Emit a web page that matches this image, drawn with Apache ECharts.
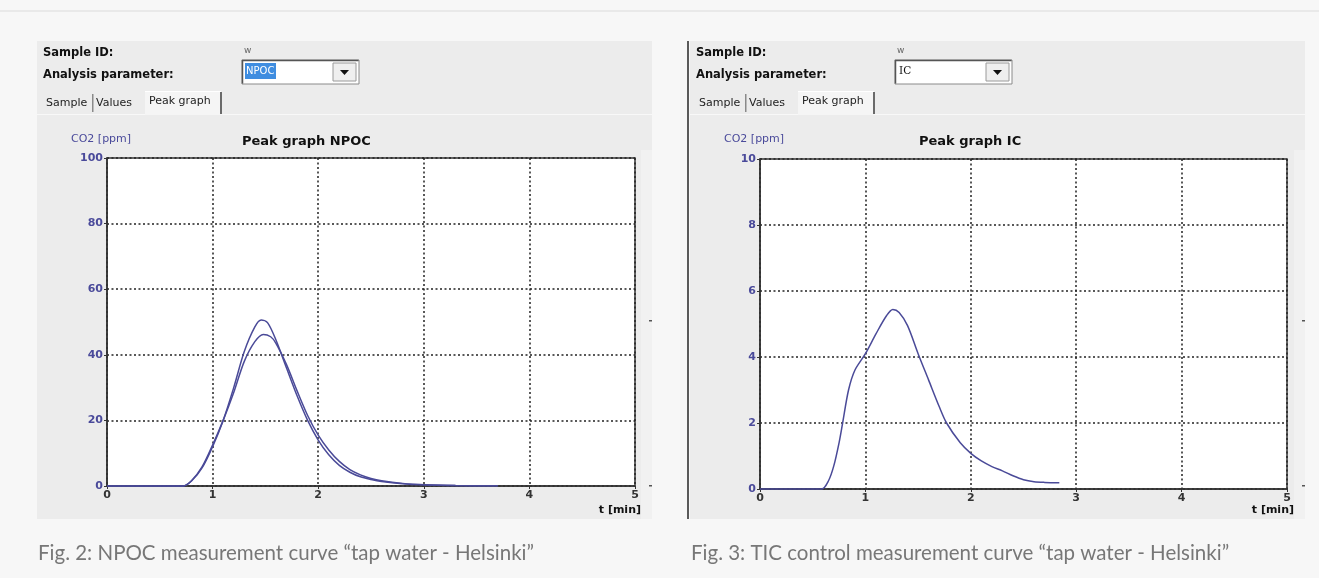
<!DOCTYPE html>
<html><head><meta charset="utf-8">
<script src="https://cdn.jsdelivr.net/npm/echarts@6/dist/echarts.min.js"></script>
<style>html,body{margin:0;padding:0;background:#f7f7f7}#c{width:1319px;height:578px}</style>
</head><body><div id="c"></div>
<script>
// ---- data ----
const xTicks = [0, 1, 2, 3, 4, 5];
const npocYTicks = [0, 20, 40, 60, 80, 100];
const icYTicks = [0, 2, 4, 6, 8, 10];

const npocTimeA = [0, 0.72, 0.8, 0.9, 1.0, 1.1, 1.2, 1.3, 1.4, 1.46, 1.52, 1.6, 1.7, 1.8, 1.9, 2.0, 2.1, 2.2, 2.3, 2.4, 2.5, 2.6, 2.8, 3.0, 3.3, 3.7];
const npocValA  = [0, 0, 1.5, 5.5, 12, 20, 30, 41, 48.5, 50.6, 49.8, 44.5, 36, 27.5, 20, 14, 9.5, 6.3, 4.2, 2.8, 2.0, 1.4, 0.7, 0.35, 0.15, 0.05];
const npocTimeB = [0, 0.72, 0.8, 0.9, 1.0, 1.1, 1.2, 1.3, 1.4, 1.48, 1.55, 1.6, 1.7, 1.8, 1.9, 2.0, 2.1, 2.2, 2.3, 2.4, 2.5, 2.6, 2.8, 3.0, 3.3, 3.7];
const npocValB  = [0, 0, 1.6, 5.8, 12.5, 20, 28.5, 38, 44, 46.2, 45.5, 43.5, 37, 29, 21.5, 15.5, 11, 7.5, 5, 3.4, 2.3, 1.6, 0.8, 0.4, 0.15, 0.05];
const icTime = [0, 0.585, 0.65, 0.7, 0.75, 0.784, 0.84, 0.9, 1.0, 1.1, 1.2, 1.26, 1.32, 1.4, 1.5, 1.6, 1.7, 1.77, 1.9, 2.0, 2.1, 2.2, 2.3, 2.4, 2.5, 2.6, 2.7, 2.84];
const icVal  = [0, 0, 0.25, 0.7, 1.4, 2.0, 3.0, 3.6, 4.1, 4.7, 5.25, 5.44, 5.35, 4.95, 4.1, 3.3, 2.5, 2.0, 1.4, 1.08, 0.85, 0.68, 0.55, 0.4, 0.28, 0.22, 0.2, 0.19];

const captions = ['Fig. 2: NPOC measurement curve \u201ctap water - Helsinki\u201d', 'Fig. 3: TIC control measurement curve \u201ctap water - Helsinki\u201d'];
const params = ['NPOC', 'IC'];
const titles = ['Peak graph NPOC', 'Peak graph IC'];

// ---- build ----
const zip = (t, v) => t.map((x, i) => [x, v[i]]);
const UI = '"DejaVu Sans", Verdana, sans-serif';
const lineCol = '#4a4a98';

function panelGraphics(dx, idx) {
  const g = [];
  g.push({type:'rect', shape:{x:37+dx, y:41, width:615, height:478}, style:{fill:'#ececec'}, z:-10});
  if (idx === 1) g.push({type:'rect', shape:{x:687, y:41, width:2, height:478}, style:{fill:'#5a5a5a'}, z:-9});
  g.push({type:'rect', shape:{x:641+dx, y:150, width:11, height:369}, style:{fill:'#f1f1f1'}, z:-9});
  g.push({type:'rect', shape:{x:649+dx, y:320, width:3, height:1.5}, style:{fill:'#555'}});
  g.push({type:'rect', shape:{x:649+dx, y:485, width:3, height:1.5}, style:{fill:'#555'}});
  g.push({type:'text', x:43+dx, y:53, style:{text:'Sample ID:', font:'bold 11.5px ' + UI, fill:'#111', verticalAlign:'middle'}});
  g.push({type:'text', x:43+dx, y:75, style:{text:'Analysis parameter:', font:'bold 11.5px ' + UI, fill:'#111', verticalAlign:'middle'}});
  g.push({type:'text', x:244+dx, y:51, style:{text:'w', font:'9px ' + UI, fill:'#666', verticalAlign:'middle'}});
  g.push({type:'rect', shape:{x:242+dx, y:60, width:117, height:24}, style:{fill:'#fff', stroke:'#8a8a8a', lineWidth:1}});
  g.push({type:'polyline', shape:{points:[[242.5+dx,83.5],[242.5+dx,60.5],[358.5+dx,60.5]]}, style:{stroke:'#555', lineWidth:1.5, fill:null}});
  g.push({type:'rect', shape:{x:333+dx, y:63, width:23, height:18}, style:{fill:'#efefef', stroke:'#9a9a9a', lineWidth:1}});
  g.push({type:'polygon', shape:{points:[[340+dx,70],[349+dx,70],[344.5+dx,75]]}, style:{fill:'#111'}});
  if (idx === 0) {
    g.push({type:'rect', shape:{x:245+dx, y:63, width:31, height:16}, style:{fill:'#3f8de0'}});
    g.push({type:'text', x:246+dx, y:71, style:{text:params[idx], font:'10px ' + UI, fill:'#fff', verticalAlign:'middle'}});
  } else {
    g.push({type:'text', x:246+dx, y:71, style:{text:params[idx], font:'10.5px "DejaVu Serif", serif', fill:'#111', verticalAlign:'middle'}});
  }
  g.push({type:'rect', shape:{x:37+dx, y:114, width:615, height:1}, style:{fill:'#f8f8f8'}});
  g.push({type:'rect', shape:{x:145+dx, y:91, width:76, height:24}, style:{fill:'#f5f5f5'}});
  g.push({type:'rect', shape:{x:145+dx, y:91, width:76, height:1}, style:{fill:'#fff'}});
  g.push({type:'rect', shape:{x:220+dx, y:92, width:2, height:22}, style:{fill:'#6a6a6a'}});
  g.push({type:'rect', shape:{x:92+dx, y:94, width:1.5, height:18}, style:{fill:'#8a8a8a'}});
  g.push({type:'text', x:46+dx, y:103, style:{text:'Sample', font:'11px ' + UI, fill:'#222', verticalAlign:'middle'}});
  g.push({type:'text', x:96+dx, y:103, style:{text:'Values', font:'11px ' + UI, fill:'#222', verticalAlign:'middle'}});
  g.push({type:'text', x:149+dx, y:101, style:{text:'Peak graph', font:'11px ' + UI, fill:'#222', verticalAlign:'middle'}});
  g.push({type:'text', x:71+dx, y:139, style:{text:'CO2 [ppm]', font:'11px ' + UI, fill:'#4b4b9b', verticalAlign:'middle'}});
  g.push({type:'text', x:242+dx + (idx ? 24 : 0), y:142, style:{text:titles[idx], font:'bold 13px ' + UI, fill:'#111', verticalAlign:'middle'}});
  g.push({type:'text', x:641+dx, y:510, style:{text:'t [min]', font:'bold 11px ' + UI, fill:'#111', align:'right', verticalAlign:'middle'}});
  g.push({type:'text', x:38+dx, y:553, style:{text:captions[idx], font:'20.5px Lato, sans-serif', fill:'#777', verticalAlign:'middle'}});
  return g;
}

function xAx(gi) {
  return {gridIndex:gi, type:'value', min:xTicks[0], max:xTicks[xTicks.length-1], interval:1,
    axisLine:{show:true, onZero:false, lineStyle:{color:'#333', width:1.5}},
    axisTick:{show:true, length:3, lineStyle:{color:'#333'}},
    axisLabel:{color:'#333', fontWeight:'bold', fontSize:11, fontFamily:'DejaVu Sans', margin:4},
    splitLine:{show:true, lineStyle:{color:'#222', type:[2,2.5], width:1.5}}};
}
function yAx(gi, ticks) {
  return {gridIndex:gi, type:'value', min:ticks[0], max:ticks[ticks.length-1], interval:ticks[1]-ticks[0],
    axisLine:{show:true, lineStyle:{color:'#333', width:1.5}},
    axisTick:{show:true, length:3, lineStyle:{color:'#333'}},
    axisLabel:{color:'#4a4a9a', fontWeight:'bold', fontSize:11, fontFamily:'DejaVu Sans', margin:4},
    splitLine:{show:true, lineStyle:{color:'#222', type:[2,2.5], width:1.5}}};
}
function ser(data, xi) {
  return {type:'line', xAxisIndex:xi, yAxisIndex:xi, data:data, showSymbol:false, smooth:0.3, clip:false,
    lineStyle:{color:lineCol, width:1.5}, itemStyle:{color:lineCol}, animation:false};
}

const chart = echarts.init(document.getElementById('c'), null, {renderer:'canvas'});
chart.setOption({
  backgroundColor:'#f7f7f7',
  animation:false,
  grid:[
    {left:107, top:158, width:528, height:328, show:true, backgroundColor:'#fff', borderColor:'#333', borderWidth:1.5},
    {left:760, top:159, width:527, height:330, show:true, backgroundColor:'#fff', borderColor:'#333', borderWidth:1.5}
  ],
  xAxis:[xAx(0), xAx(1)],
  yAxis:[yAx(0, npocYTicks), yAx(1, icYTicks)],
  series:[ser(zip(npocTimeA, npocValA), 0), ser(zip(npocTimeB, npocValB), 0), ser(zip(icTime, icVal), 1)],
  graphic:[{type:'rect', shape:{x:0, y:10, width:1319, height:2}, style:{fill:'#e9e9e9'}, z:-10}]
    .concat(panelGraphics(0, 0)).concat(panelGraphics(653, 1))
});
</script></body></html>
